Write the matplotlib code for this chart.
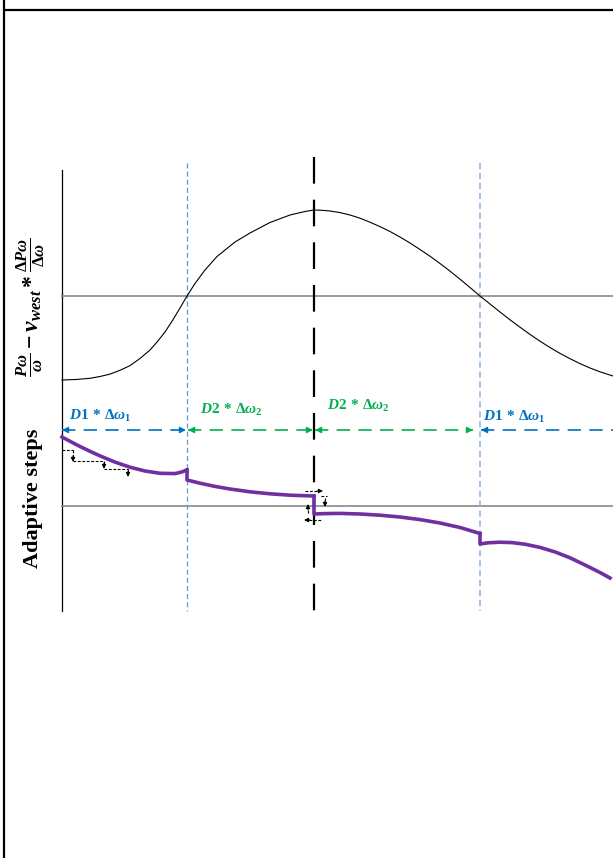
import matplotlib
matplotlib.use("Agg")
import matplotlib.pyplot as plt

plt.rcParams['mathtext.fontset'] = 'custom'
plt.rcParams['mathtext.rm'] = 'Liberation Serif:bold'
plt.rcParams['mathtext.it'] = 'Liberation Serif:bold:italic'
plt.rcParams['mathtext.bf'] = 'Liberation Serif:bold'

# ---- data (diagram coordinates, y grows downward) ----
power_x = [62, 76, 90, 100, 110, 120, 130, 140, 150, 157.5, 165, 172.5, 180, 187,
           195, 205, 217, 235, 250, 270, 290, 305, 314,
           322, 330, 340, 350, 360, 370, 380, 390, 400, 410, 420, 430, 440, 450,
           460, 470, 480, 490, 500, 510, 520, 530, 540, 550, 560, 570, 580, 590,
           600, 613]
power_y = [380, 379.5, 378.3, 376.5, 374.1, 370.3, 365.6, 358.5, 350, 341.5, 332, 320.5, 308, 296,
           283.5, 270, 256.5, 242, 233, 222.5, 215, 211.5, 210,
           210.3, 211, 212.6, 215, 218.2, 222.2, 226.6, 231.5, 237, 243, 249.5, 256.2, 263.5, 271.1,
           279.2, 287.5, 296, 304, 312, 319.8, 327.2, 334.4, 341.2, 347.5, 353.4, 358.7, 363.6, 368,
           371.8, 376]

step_seg1_x = [62, 71, 80, 90, 100, 115, 130, 145, 160, 175, 181, 187]
step_seg1_y = [437, 441.8, 446.5, 451.3, 455.9, 462.1, 467.2, 471, 473.3, 473.6, 472.2, 470]
step_seg2_x = [187, 187, 200, 215, 230, 250, 270, 290, 314]
step_seg2_y = [470, 480, 483.2, 486.4, 489, 491.8, 493.8, 495.2, 496]
step_seg3_x = [314, 314, 325, 340, 360, 380, 400, 420, 440, 460, 480]
step_seg3_y = [496, 514, 513.6, 513.4, 514, 515.2, 517, 519.6, 523, 527.5, 533.5]
step_seg4_x = [480, 480, 488, 500, 512, 525, 540, 555, 570, 585, 600, 610]
step_seg4_y = [533.5, 544, 542.8, 542.2, 542.6, 544.2, 547.4, 551.9, 557.8, 565, 572.5, 578]

range_labels = [r'$D1\,*\,\Delta\omega_1$', r'$D2\,*\,\Delta\omega_2$',
                r'$D2\,*\,\Delta\omega_2$', r'$D1\,*\,\Delta\omega_1$']
ylabel_top = r'$\frac{P\omega}{\omega}-v_{west}*\frac{\Delta P\omega}{\Delta\omega}$'
ylabel_bottom = 'Adaptive steps'

# ---- styles / geometry ----
BLUE = '#0070c0'
GREEN = '#00b050'
PURPLE = '#7030a0'
GRAY = '#7f7f7f'

fig = plt.figure(figsize=(6.13, 8.58), dpi=100)
ax = fig.add_axes([0, 0, 1, 1])
ax.set_xlim(0, 613)
ax.set_ylim(858, 0)
ax.axis('off')

# frame
ax.plot([3, 613], [10, 10], color='black', lw=1.6, solid_capstyle='butt')
ax.plot([4, 4], [0, 858], color='black', lw=1.6, solid_capstyle='butt')

# left axis
ax.plot([62, 62], [170, 611], color='black', lw=0.9)
# zero lines
ax.plot([62, 613], [296, 296], color=GRAY, lw=1.1)
ax.plot([62, 613], [506, 506], color=GRAY, lw=1.1)

# vertical dashed boundaries
ax.plot([187, 187], [163, 611], color='#5b9bd5', lw=0.9, dashes=(4, 2.5))
ax.plot([480, 480], [163, 611], color='#8db3e2', lw=1.1, dashes=(4, 2.5))
# MPP line
ax.plot([314, 314], [157, 611], color='black', lw=1.6, dashes=(12, 7.2))

# power curve
ax.plot(power_x, power_y, color='black', lw=0.8, solid_joinstyle='round')

# adaptive-step curve
for sx, sy in [(step_seg1_x, step_seg1_y), (step_seg2_x, step_seg2_y),
               (step_seg3_x, step_seg3_y), (step_seg4_x, step_seg4_y)]:
    ax.plot(sx, sy, color=PURPLE, lw=2.6, solid_joinstyle='round')


def head(x0, y0, x1, y1, color, ms=9, lw=1.0):
    ax.annotate('', xy=(x1, y1), xytext=(x0, y0),
                arrowprops=dict(arrowstyle='-|>', color=color, lw=lw,
                                mutation_scale=ms, shrinkA=0, shrinkB=0))


def dashed_arrow(xa, xb, y, color, left=True, right=True):
    ax.plot([xa, xb], [y, y], color=color, lw=1.2, dashes=(8, 5))
    if left:
        head(xa + 6, y, xa, y, color)
    if right:
        head(xb - 6, y, xb, y, color)


ARROW_Y = 430
dashed_arrow(62, 186, ARROW_Y, BLUE)
dashed_arrow(188, 313, ARROW_Y, GREEN)
dashed_arrow(315, 473, ARROW_Y, GREEN)
dashed_arrow(481, 613, ARROW_Y, BLUE, left=True, right=False)

label_pos = [(100, 416), (231, 410), (358, 406), (514, 417)]
label_col = [BLUE, GREEN, GREEN, BLUE]
for txt, (lx, ly), c in zip(range_labels, label_pos, label_col):
    ax.text(lx, ly, txt, color=c, fontsize=11, ha='center', va='center')

# small step arrows at start
def small_dashed(xs, ys):
    ax.plot(xs, ys, color='black', lw=0.8, dashes=(2.5, 1.5))

small_dashed([62, 73], [450, 450])
small_dashed([73, 73], [450, 458])
head(73, 456, 73, 462, 'black', ms=6, lw=0.8)
small_dashed([73, 104], [461, 461])
small_dashed([104, 104], [461, 465])
head(104, 463, 104, 469, 'black', ms=6, lw=0.8)
small_dashed([104, 128], [469, 469])
small_dashed([128, 128], [469, 473])
head(128, 471, 128, 477, 'black', ms=6, lw=0.8)

# small arrows around MPP
small_dashed([305, 318], [491, 491])
head(317, 491, 323, 491, 'black', ms=6, lw=0.8)
small_dashed([321, 327], [496, 496])
small_dashed([325, 325], [498, 502])
head(325, 501, 325, 507, 'black', ms=6, lw=0.8)
small_dashed([308, 308], [513, 509])
head(308, 510, 308, 504, 'black', ms=6, lw=0.8)
small_dashed([309, 321], [520, 520])
head(310, 520, 304, 520, 'black', ms=6, lw=0.8)

# y labels
ax.text(31, 307, ylabel_top, rotation=90, fontsize=17, ha='center', va='center')
ax.text(33, 498, ylabel_bottom, rotation=90, fontsize=16, ha='center', va='center',
        family='Liberation Serif', fontweight='bold')

fig.savefig('out.png', dpi=100)
